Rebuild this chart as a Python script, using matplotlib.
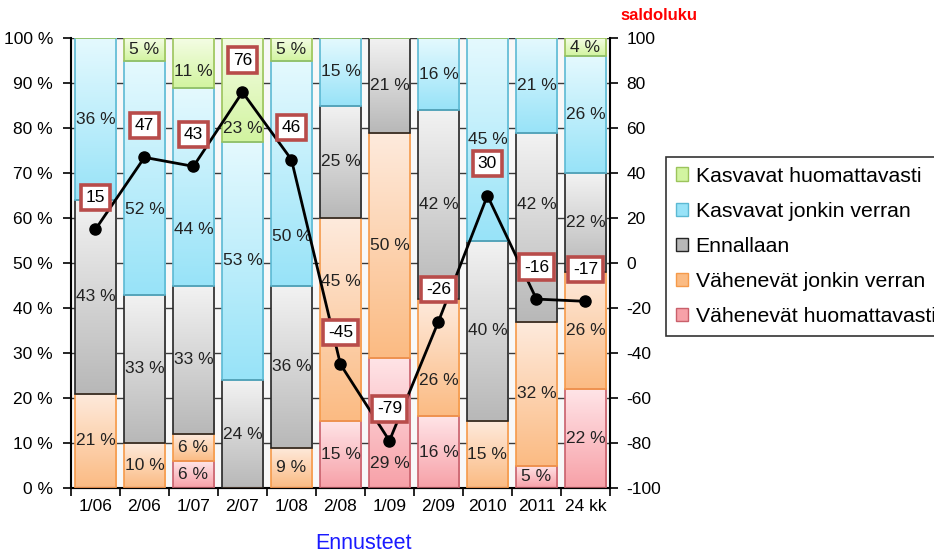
import numpy as np
import matplotlib
matplotlib.use('Agg')
import matplotlib.pyplot as plt
from matplotlib.colors import LinearSegmentedColormap
from matplotlib.patches import Patch

plt.rcParams['font.family'] = ['Liberation Sans', 'DejaVu Sans']
plt.rcParams['axes.unicode_minus'] = False

kaudet = ['1/06', '2/06', '1/07', '2/07', '1/08', '2/08', '1/09', '2/09', '2010', '2011', '24 kk']
vah_huom = [0, 0, 6, 0, 0, 15, 29, 16, 0, 5, 22]
vah_jonk = [21, 10, 6, 0, 9, 45, 50, 26, 15, 32, 26]
ennallaan = [43, 33, 33, 24, 36, 25, 21, 42, 40, 42, 22]
kasv_jonk = [36, 52, 44, 53, 50, 15, 0, 16, 45, 21, 26]
kasv_huom = [0, 5, 11, 23, 5, 0, 0, 0, 0, 0, 4]
saldo = [15, 47, 43, 76, 46, -45, -79, -26, 30, -16, -17]

# (nimi, arvot, yläväri, alaväri, reuna)
sarjat = [
    ('Vähenevät huomattavasti', vah_huom, '#ffe4e7', '#f7a1a8', '#c9606b'),
    ('Vähenevät jonkin verran', vah_jonk, '#feeadc', '#fbbb83', '#f59a4a'),
    ('Ennallaan', ennallaan, '#f2f2f2', '#b8b8b8', '#262626'),
    ('Kasvavat jonkin verran', kasv_jonk, '#e4f9fe', '#98e3f8', '#5cb9d3'),
    ('Kasvavat huomattavasti', kasv_huom, '#f4fde4', '#d2f4a0', '#9cc45c'),
]

# käsin siirretyt prosenttitekstit (sarja, kausi) -> korkeus
siirrot = {(3, 1): 62, (3, 2): 57.5, (4, 3): 80, (3, 4): 56, (1, 5): 46,
           (0, 6): 5.5, (1, 7): 24, (2, 9): 63, (4, 2): 92.5}

fig = plt.figure(figsize=(9.34, 5.53), dpi=100)
ax = fig.add_axes([0.076, 0.1175, 0.577, 0.8135])
ax.set_facecolor('#f8f8f8')

x = np.arange(len(kaudet))
leveys = 0.84
pohja = np.zeros(len(kaudet))
grad = np.linspace(0, 1, 64).reshape(-1, 1)

for si, (nimi, arvot, yla, ala, reuna) in enumerate(sarjat):
    cmap = LinearSegmentedColormap.from_list(nimi, [ala, yla])
    palkit = ax.bar(x, arvot, width=leveys, bottom=pohja, facecolor='none',
                    edgecolor=reuna, linewidth=1.2, zorder=3)
    for ki, (r, v) in enumerate(zip(palkit, arvot)):
        if v <= 0:
            continue
        x0, y0, w, h = r.get_x(), r.get_y(), r.get_width(), r.get_height()
        ax.imshow(grad, extent=[x0, x0 + w, y0, y0 + h], aspect='auto',
                  cmap=cmap, origin='lower', zorder=2, interpolation='bilinear')
        ty = siirrot.get((si, ki), y0 + h / 2)
        ax.text(x0 + w / 2, ty, f'{v} %', ha='center', va='center',
                fontsize=12.5, color='#222222', zorder=5)
    pohja += np.array(arvot)

ax.set_xlim(-0.5, len(kaudet) - 0.5)
ax.set_ylim(0, 100)
ax.set_yticks(range(0, 101, 10))
ax.set_yticklabels([f'{v} %' for v in range(0, 101, 10)], fontsize=12.5)
ax.yaxis.grid(True, color='#3a3a3a', linewidth=1)
ax.set_axisbelow(True)
ax.set_xticks(np.arange(-0.5, len(kaudet), 1))
ax.set_xticklabels([])
ax.set_xticks(x, minor=True)
ax.set_xticklabels(kaudet, minor=True, fontsize=12.5)
ax.tick_params(axis='x', which='major', direction='out', length=6, width=1.2)
ax.tick_params(axis='x', which='minor', length=0, pad=8)
ax.tick_params(axis='y', direction='out', length=6, width=1.2, pad=7)
for s in ['left', 'bottom']:
    ax.spines[s].set_linewidth(1.5)
ax.spines['top'].set_visible(False)
ax.spines['right'].set_visible(False)

ax2 = ax.twinx()
ax2.set_ylim(-100, 100)
ax2.set_yticks(range(-100, 101, 20))
ax2.tick_params(axis='y', direction='out', length=6, width=1.2, labelsize=12.5, pad=6)
ax2.spines['right'].set_linewidth(1.5)
ax2.spines['top'].set_visible(False)
ax2.spines['left'].set_visible(False)
ax2.plot(x, saldo, color='black', linewidth=2, marker='o', markersize=8, zorder=6)
for xi, s in zip(x, saldo):
    ax2.annotate(str(s), (xi, s), xytext=(0, 23), textcoords='offset points',
                 ha='center', va='center', fontsize=12.5, zorder=7,
                 bbox=dict(boxstyle='square,pad=0.3', facecolor='white',
                           edgecolor='#b84c4a', linewidth=2.6))

fig.text(0.706, 0.972, 'saldoluku', color='#ff0000', fontsize=12, fontweight='bold',
         ha='center', va='center')
fig.text(0.389, 0.018, 'Ennusteet', color='#1a1aff', fontsize=15.5, ha='center',
         va='center')
fig.text(0.393, 1.014, 'Tuotanto 2 vuoden aikana', color='#bbbbbb', fontsize=19,
         fontweight='bold', ha='center', va='center')

kahvat = [Patch(facecolor=ala, edgecolor=reuna, label=nimi)
          for nimi, arvot, yla, ala, reuna in sarjat[::-1]]
leg = fig.legend(handles=kahvat, loc='upper left', bbox_to_anchor=(0.713, 0.716),
                 fontsize=15.3, frameon=True, fancybox=False, handlelength=0.6,
                 handleheight=0.6, handletextpad=0.35, labelspacing=0.76,
                 borderpad=0.45, borderaxespad=0)
leg.get_frame().set_edgecolor('black')
leg.get_frame().set_linewidth(1.2)

fig.savefig('out.png', dpi=100)
